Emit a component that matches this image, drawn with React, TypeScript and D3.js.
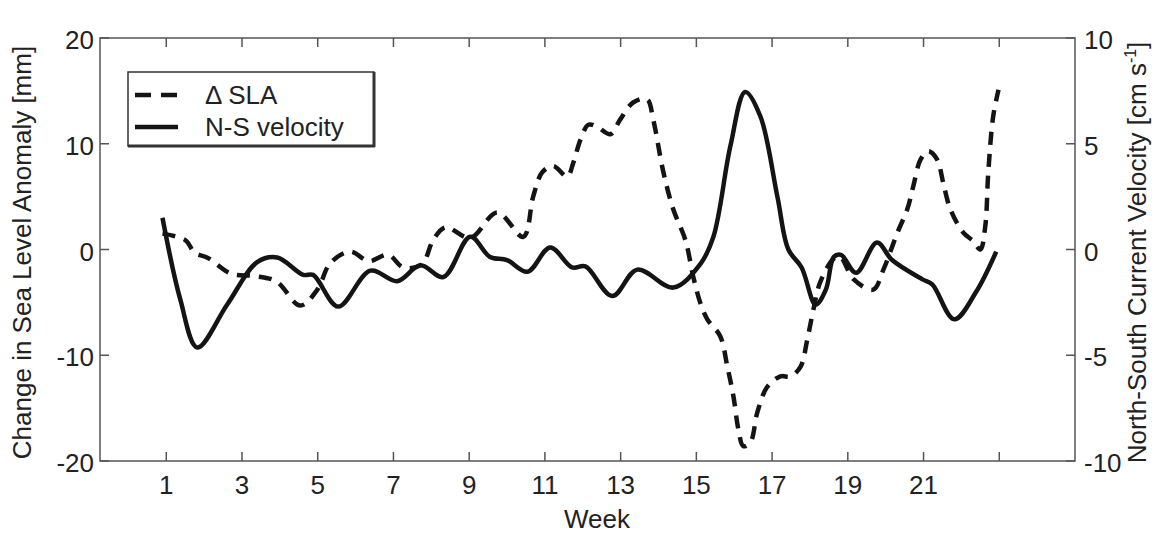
import React from "react";
import * as d3 from "d3";

// axis ticks
const weekTicks = [1, 3, 5, 7, 9, 11, 13, 15, 17, 19, 21, 23];
const weekTickLabels = ["1", "3", "5", "7", "9", "11", "13", "15", "17", "19", "21", ""];
const slaTicks = [-20, -10, 0, 10, 20];
const velTicks = [-10, -5, 0, 5, 10];

// change in sea level anomaly [mm] (left axis)
const slaWeeks = [
  0.9, 1.5, 1.75, 2.1, 2.72, 3.3, 3.9, 4.54, 4.99, 5.33, 5.86, 6.35, 6.86, 7.26, 7.75,
  8.05, 8.37, 9.03, 9.74, 10.43, 10.69, 10.93, 11.22, 11.59, 11.75, 11.94, 12.15, 12.38,
  12.73, 12.99, 13.33, 13.7, 13.86, 14.13, 14.39, 14.71, 14.92, 15.1, 15.29, 15.63, 15.82,
  15.98, 16.11, 16.24, 16.43, 16.61, 16.87, 17.22, 17.48, 17.75, 17.93, 18.09, 18.27,
  18.62, 18.8, 19.15, 19.67, 19.94, 20.31, 20.57, 20.73, 20.92, 21.13, 21.36, 21.52,
  21.71, 22.05, 22.31, 22.5, 22.63, 22.71, 22.84, 22.98,
];
const slaValues = [
  1.5, 0.9, -0.3, -0.8, -2.3, -2.5, -3.0, -5.3, -3.8, -1.3, -0.2, -1.1, -0.5, -1.7, -1.4,
  0.9, 2.1, 1.1, 3.5, 1.2, 5.0, 7.3, 7.9, 6.9, 8.2, 10.4, 11.8, 11.6,
  10.9, 12.3, 13.9, 14.2, 12.3, 7.3, 3.8, 0.9, -2.6, -5.0, -6.6, -8.2, -11.1,
  -13.9, -17.0, -18.6, -18.2, -15.4, -13.0, -12.0, -12.0, -11.1, -8.5, -5.7, -3.1,
  -0.9, -0.7, -2.8, -3.8, -1.9, 1.6, 3.8, 6.0, 8.5, 9.3, 8.5, 6.3,
  3.8, 1.6, 0.8, 0.0, 2.2, 7.3, 12.6, 15.1,
];

// north-south current velocity [cm/s] (right axis)
const velWeeks = [
  0.9, 1.37, 1.82, 2.61, 3.4, 3.93, 4.62, 4.88, 5.54, 6.39, 7.1, 7.71, 8.32, 9.03, 9.55,
  10.0, 10.54, 11.14, 11.72, 12.07, 12.78, 13.44, 14.39, 15.1, 15.45, 15.9, 16.29, 16.69,
  17.14, 17.43, 17.78, 18.15, 18.42, 18.63, 18.82, 19.22, 19.77, 20.17, 20.96, 21.23,
  21.81, 22.39, 22.92,
];
const velValues = [
  1.5, -2.36, -4.63, -2.6, -0.6, -0.38, -1.2, -1.2, -2.7, -1.0, -1.5, -0.75, -1.3, 0.6, -0.35,
  -0.5, -1.05, 0.1, -0.85, -0.8, -2.2, -0.95, -1.8, -0.7, 0.6, 4.9, 7.45, 6.3,
  2.5, 0.0, -0.85, -2.6, -1.9, -0.35, -0.25, -1.1, 0.33, -0.5, -1.4, -1.65,
  -3.3, -2.0, -0.1,
];

const W = 1173;
const H = 535;
const plot = { left: 100, right: 1075, top: 38, bottom: 461 };
const font = "'Liberation Sans', Arial, Helvetica, sans-serif";
const ink = "#141414";
const axisColor = "#555";

export default function App() {
  const x = d3.scaleLinear().domain([-0.75, 25]).range([plot.left, plot.right]);
  const ySla = d3.scaleLinear().domain([-20, 20]).range([plot.bottom, plot.top]);
  const yVel = d3.scaleLinear().domain([-10, 10]).range([plot.bottom, plot.top]);

  const slaLine = d3
    .line<number>()
    .x((_, i) => x(slaWeeks[i]))
    .y((d) => ySla(d))
    .curve(d3.curveCatmullRom.alpha(0.5));

  const velLine = d3
    .line<number>()
    .x((_, i) => x(velWeeks[i]))
    .y((d) => yVel(d))
    .curve(d3.curveCatmullRom.alpha(0.5));

  const tickLen = 9;

  return (
    <svg
      width={W}
      height={H}
      style={{ position: "absolute", left: 0, top: 0, background: "#fff" }}
      fontFamily={font}
    >
      {/* box */}
      <rect
        x={plot.left}
        y={plot.top}
        width={plot.right - plot.left}
        height={plot.bottom - plot.top}
        fill="none"
        stroke={axisColor}
        strokeWidth={1.5}
      />

      {/* week ticks, top and bottom */}
      {weekTicks.map((t, i) => (
        <g key={"wx" + t}>
          <line x1={x(t)} x2={x(t)} y1={plot.bottom} y2={plot.bottom - tickLen} stroke={axisColor} strokeWidth={1.5} />
          <line x1={x(t)} x2={x(t)} y1={plot.top} y2={plot.top + tickLen} stroke={axisColor} strokeWidth={1.5} />
          <text x={x(t)} y={494} textAnchor="middle" fontSize={26} fill="#222">
            {weekTickLabels[i]}
          </text>
        </g>
      ))}

      {/* left axis */}
      {slaTicks.map((t) => (
        <g key={"ys" + t}>
          <line x1={plot.left} x2={plot.left + tickLen} y1={ySla(t)} y2={ySla(t)} stroke={axisColor} strokeWidth={1.5} />
          <text x={94} y={ySla(t) + 11} textAnchor="end" fontSize={26} fill="#222">
            {t}
          </text>
        </g>
      ))}

      {/* right axis */}
      {velTicks.map((t) => (
        <g key={"yv" + t}>
          <line x1={plot.right} x2={plot.right - tickLen} y1={yVel(t)} y2={yVel(t)} stroke={axisColor} strokeWidth={1.5} />
          <text x={1084} y={yVel(t) + 11} textAnchor="start" fontSize={26} fill="#222">
            {t}
          </text>
        </g>
      ))}

      {/* axis titles */}
      <text x={597} y={528} textAnchor="middle" fontSize={26} fill="#222">
        Week
      </text>
      <text
        transform={`translate(31,${(plot.top + plot.bottom) / 2 + 3}) rotate(-90)`}
        textAnchor="middle"
        fontSize={26}
        fill="#222"
      >
        Change in Sea Level Anomaly [mm]
      </text>
      <text
        transform={`translate(1146,${(plot.top + plot.bottom) / 2 + 3}) rotate(-90)`}
        textAnchor="middle"
        fontSize={26}
        fill="#222"
      >
        North-South Current Velocity [cm s
        <tspan fontSize={16} dy={-10}>-1</tspan>
        <tspan dy={10}>]</tspan>
      </text>

      {/* series */}
      <path
        d={slaLine(slaValues) || ""}
        fill="none"
        stroke={ink}
        strokeWidth={4.5}
        strokeDasharray="13 9"
      />
      <path d={velLine(velValues) || ""} fill="none" stroke={ink} strokeWidth={4.5} strokeLinejoin="round" />

      {/* legend */}
      <g>
        <rect x={128} y={72} width={246} height={74} fill="#fff" stroke="#333" strokeWidth={1.5} />
        <line x1={374} x2={374} y1={72} y2={147} stroke="#333" strokeWidth={3} />
        <line x1={128} x2={375} y1={146} y2={146} stroke="#333" strokeWidth={3} />
        <line x1={135} x2={178} y1={95} y2={95} stroke={ink} strokeWidth={4.5} strokeDasharray="16 10" />
        <line x1={135} x2={178} y1={127} y2={127} stroke={ink} strokeWidth={4.5} />
        <text x={205} y={104} fontSize={26} fill="#222">
          Δ SLA
        </text>
        <text x={205} y={136} fontSize={26} fill="#222">
          N-S velocity
        </text>
      </g>
    </svg>
  );
}
